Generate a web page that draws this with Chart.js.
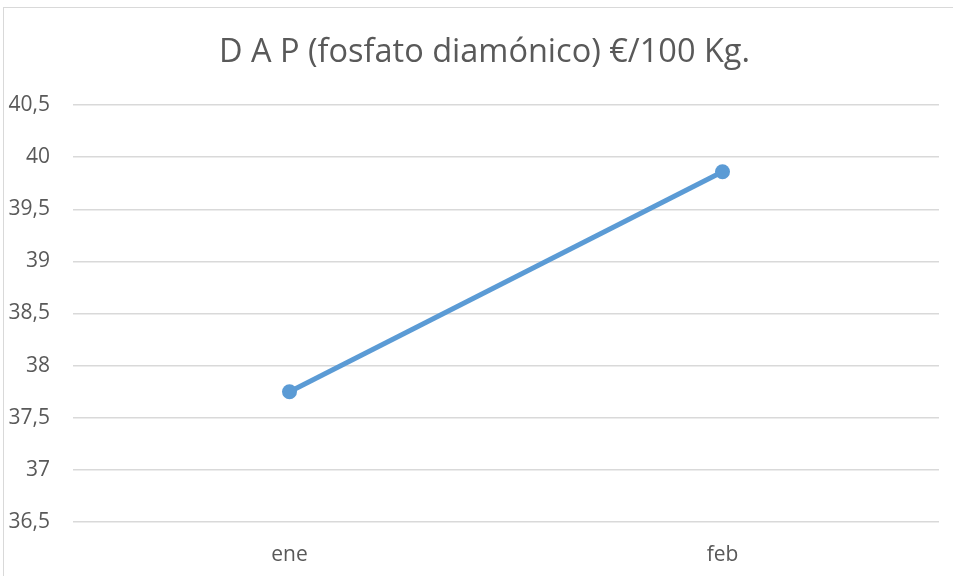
<!DOCTYPE html>
<html>
<head>
<meta charset="utf-8">
<script src="https://cdn.jsdelivr.net/npm/chart.js@4.4.1/dist/chart.umd.min.js"></script>
<style>
    html, body { margin: 0; padding: 0; background: #fff; }
    #wrap { position: relative; width: 953px; height: 576px; overflow: hidden; }
    #frame {
        position: absolute; left: 3px; top: 7px; width: 980px; height: 600px;
        border: 1px solid #D9D9D9; pointer-events: none;
    }
</style>
</head>
<body>
<div id="wrap">
    <canvas id="dapChart" width="970" height="576"></canvas>
    <div id="frame"></div>
</div>
<script>
const chartTitle = 'D A P (fosfato diamónico) €/100 Kg.';
const months = ['ene', 'feb'];
const prices = [37.75, 39.86];
const yMin = 36.5;
const yMax = 40.5;
const yStep = 0.5;

const fontName = 'Open Sans';
const ctx = document.getElementById('dapChart').getContext('2d');
new Chart(ctx, {
    type: 'line',
    data: {
        labels: months,
        datasets: [{
            label: 'DAP',
            data: prices,
            borderColor: '#5B9BD5',
            backgroundColor: '#5B9BD5',
            borderWidth: 5,
            pointRadius: 7.5,
            pointHoverRadius: 7.5,
            pointBorderWidth: 0,
            fill: false,
            tension: 0
        }]
    },
    options: {
        responsive: false,
        animation: false,
        layout: {
            padding: { left: 7, right: 8, top: 0, bottom: 14 }
        },
        plugins: {
            legend: { display: false },
            tooltip: { enabled: false },
            title: {
                display: true,
                text: chartTitle,
                color: '#595959',
                font: { family: fontName, size: 32.5, weight: 'normal', lineHeight: 1.2 },
                padding: { top: 33, bottom: 33 }
            }
        },
        scales: {
            x: {
                offset: true,
                grid: { display: false, drawTicks: false },
                border: { display: false },
                ticks: {
                    color: '#595959',
                    font: { family: fontName, size: 21 },
                    padding: 20
                },
                afterFit: function(scale) { scale.height = 40; }
            },
            y: {
                min: yMin,
                max: yMax,
                grid: { color: '#D9D9D9', lineWidth: 1.5, drawTicks: false },
                border: { display: false },
                ticks: {
                    stepSize: yStep,
                    color: '#595959',
                    font: { family: fontName, size: 21 },
                    padding: 23,
                    callback: function(value) { return String(value).replace('.', ','); }
                },
                afterFit: function(scale) { scale.width = 66; }
            },
            // empty spacer on the right so the title sits centred like the original frame
            spacer: {
                type: 'linear',
                position: 'right',
                grid: { display: false, drawTicks: false },
                border: { display: false },
                ticks: { display: false },
                afterFit: function(scale) { scale.width = 23; }
            }
        }
    }
});
</script>
</body>
</html>
